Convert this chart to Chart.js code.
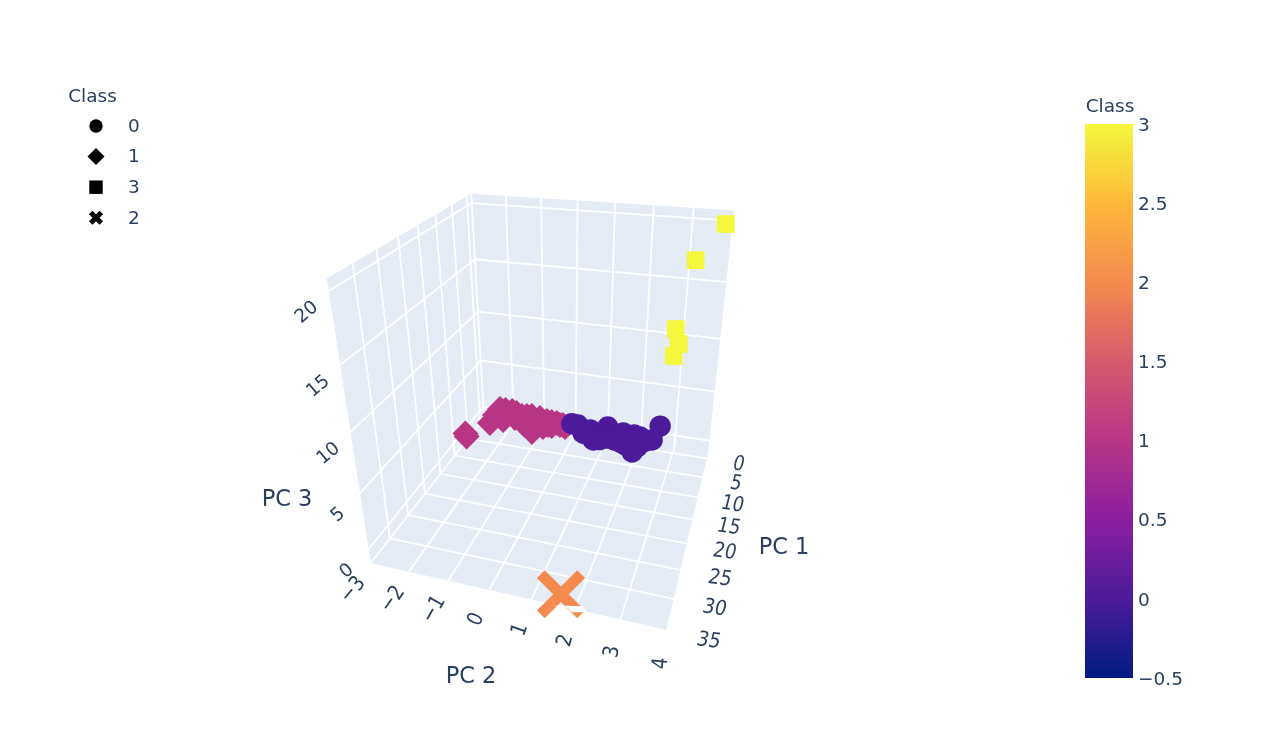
<!DOCTYPE html>
<html>
<head>
<meta charset="utf-8">
<title>Class scatter</title>
<script src="https://cdn.jsdelivr.net/npm/chart.js@4/dist/chart.umd.js"></script>
<style>
    body { margin: 0; background: #fff; }
    #scene { position: absolute; left: 0; top: 0; }
    #colorbar { position: absolute; left: 1085px; top: 108px; }
</style>
</head>
<body>
<canvas id="scene" width="1278" height="744"></canvas>
<canvas id="colorbar" width="190" height="586"></canvas>
<script>
// Values
const class0Pc1 = [-0.3, -0.3, -0.3, -0.3, -0.3, -0.3, 3.93, 2.39, 1.25, 1.8, -0.47, 2.35, 2.39, -0.14, -0.3, -0.3, -0.3, 2.0, 1.5, 1.0, 0.5, 1.2];
const class0Pc2 = [-0.05, 0.14, 0.52, 1.05, 1.52, 1.84, 1.96, 0.75, 1.1, 1.52, 2.01, 1.69, 2.04, 2.38, 2.58, 0.3, 0.83, 0.92, 1.33, 0.43, 2.2, 1.8];
const class0Pc3 = [0.06, 0.03, -0.3, 0.3, -0.08, -0.13, -0.3, -0.3, -0.3, -0.3, -0.3, -0.3, -0.3, -0.3, 1.22, -0.76, -0.68, -0.3, -0.3, -0.3, -0.3, -0.3];

const class1Pc1 = [6.4, 7.15, 2.43, -0.32, -0.28, -0.3, -0.3, -0.3, -0.3, -0.3, -0.3, -0.3, -0.3, 2.0, -0.3, 0.49, 0.49, 1.0, -0.14, -0.3, -0.3, -0.3, -0.3, -0.3, -0.3, -0.3, -0.3, -0.3, -0.3, -0.3, -0.2];
const class1Pc2 = [-2.94, -2.84, -2.47, -2.34, -1.94, -1.63, -1.31, -0.83, -0.52, -0.33, -0.26, -1.05, -0.96, -1.16, -1.6, -2.45, -2.02, -2.15, -1.85, -1.47, -0.68, -2.16, -1.8, -1.47, -1.05, -0.68, -0.42, -1.54, -1.22, -0.8, -2.26];
const class1Pc3 = [-0.2, -0.2, -0.2, 0.47, 0.47, 0.09, 0.25, -0.04, -0.1, -0.22, -0.41, -0.28, -0.79, -0.64, -0.68, 0.03, 0.47, -0.2, -0.2, -0.73, -0.53, 0.47, 0.32, 0.17, 0.16, -0.08, -0.28, -0.87, -0.92, -0.48, -0.02];

const class2Pc1 = [33.8];
const class2Pc2 = [1.62];
const class2Pc3 = [-0.86];

const class3Pc1 = [-0.1, -0.1, -0.1, -0.1, -0.1];
const class3Pc2 = [3.84, 3.19, 2.82, 2.93, 2.82];
const class3Pc3 = [19.96, 16.9, 10.83, 9.51, 8.34];

const pc1Ticks = [0, 5, 10, 15, 20, 25, 30, 35];
const pc2Ticks = [-3, -2, -1, 0, 1, 2, 3, 4];
const pc3Ticks = [0, 5, 10, 15, 20];
const colorbarTicks = [-0.5, 0, 0.5, 1, 1.5, 2, 2.5, 3];

const legendLabels = ['0', '1', '3', '2'];
const legendStyles = ['circle', 'rectRot', 'rect', 'crossRot'];

// Colour at each colour bar tick, bottom to top
const colorbarColors = ['#001a83', '#4c1b9b', '#8b1fa0', '#b83586', '#d65a6c', '#f58a4e', '#fdb93b', '#f4f73c'];

const textColor = '#2a3f5f';
const textFont = '"DejaVu Sans", Verdana, sans-serif';

// Box extent in data units
const pc1Range = [-1.6, 35];
const pc2Range = [-3, 4];
const pc3Range = [-1.3, 20.8];

// Camera: where the box corners land on the page, and the perspective weight of each edge
const cornerFront = [370, 564];
const cornerBack = [484, 418];
const cornerRight = [667, 631];
const cornerTop = [326, 279];
const depthWeight = [0.341, -0.113, -0.185];

// Project a data point (PC 1, PC 2, PC 3) to page pixels
function project(pc1, pc2, pc3) {
    const t1 = (pc1Range[1] - pc1) / (pc1Range[1] - pc1Range[0]);
    const t2 = (pc2 - pc2Range[0]) / (pc2Range[1] - pc2Range[0]);
    const t3 = (pc3 - pc3Range[0]) / (pc3Range[1] - pc3Range[0]);
    const w = 1 + t1 * depthWeight[0] + t2 * depthWeight[1] + t3 * depthWeight[2];
    const coord = (i) => (cornerFront[i]
        + t1 * ((1 + depthWeight[0]) * cornerBack[i] - cornerFront[i])
        + t2 * ((1 + depthWeight[1]) * cornerRight[i] - cornerFront[i])
        + t3 * ((1 + depthWeight[2]) * cornerTop[i] - cornerFront[i])) / w;
    return { x: coord(0), y: coord(1) };
}

function projectAll(pc1, pc2, pc3) {
    return pc1.map((v, i) => project(v, pc2[i], pc3[i]));
}

function minus(v) {
    return v < 0 ? '\u2212' + Math.abs(v) : String(v);
}

// Filled walls and floor
function paneDataset(corners) {
    const pts = corners.map(c => project(c[0], c[1], c[2]));
    pts.push(pts[0]);
    return {
        data: pts, showLine: true, fill: 'shape', backgroundColor: '#e5ecf6',
        borderWidth: 0, pointRadius: 0, order: 5
    };
}

function gridDataset(from, to) {
    return {
        data: [project(from[0], from[1], from[2]), project(to[0], to[1], to[2])],
        showLine: true, borderColor: '#ffffff', borderWidth: 1.8, pointRadius: 0, order: 4
    };
}

const [x0, x1] = pc1Range;
const [y0, y1] = pc2Range;
const [z0, z1] = pc3Range;

const sceneDatasets = [
    paneDataset([[x0, y0, z0], [x0, y1, z0], [x0, y1, z1], [x0, y0, z1]]),
    paneDataset([[x0, y0, z0], [x1, y0, z0], [x1, y0, z1], [x0, y0, z1]]),
    paneDataset([[x0, y0, z0], [x1, y0, z0], [x1, y1, z0], [x0, y1, z0]])
];

for (const v of pc1Ticks) {
    sceneDatasets.push(gridDataset([v, y0, z0], [v, y1, z0]));
    sceneDatasets.push(gridDataset([v, y0, z0], [v, y0, z1]));
}
for (const v of pc2Ticks) {
    sceneDatasets.push(gridDataset([x0, v, z0], [x1, v, z0]));
    sceneDatasets.push(gridDataset([x0, v, z0], [x0, v, z1]));
}
for (const v of pc3Ticks) {
    sceneDatasets.push(gridDataset([x0, y0, v], [x1, y0, v]));
    sceneDatasets.push(gridDataset([x0, y0, v], [x0, y1, v]));
}

// Class markers
sceneDatasets.push({
    label: '1', data: projectAll(class1Pc1, class1Pc2, class1Pc3), pointStyle: 'rectRot',
    pointRadius: 13, pointBorderWidth: 0, pointBackgroundColor: '#b83586', order: 3
});
sceneDatasets.push({
    label: '0', data: projectAll(class0Pc1, class0Pc2, class0Pc3), pointStyle: 'circle',
    pointRadius: 10.7, pointBorderWidth: 0, pointBackgroundColor: '#4c1b9b', order: 2
});
const class2Points = projectAll(class2Pc1, class2Pc2, class2Pc3);
sceneDatasets.push({
    label: '2', data: class2Points, pointStyle: 'crossRot',
    pointRadius: 28.5, pointBorderWidth: 11, pointBorderColor: '#f58a4e', order: 1
});
sceneDatasets.push({
    label: '3', data: projectAll(class3Pc1, class3Pc2, class3Pc3), pointStyle: 'rect',
    pointRadius: 12.5, pointBorderWidth: 0, pointBackgroundColor: '#f4f73c', order: 1
});

// The X is cut by the box's front edge in the reference: white sliver over its lower arm
const cutOffsets = [[-10, 11], [21, 12], [26, 17], [22, 18], [11, 18], [5, 12.5], [-10, 11]];
sceneDatasets.push({
    data: cutOffsets.map(o => ({ x: class2Points[0].x + o[0], y: class2Points[0].y + o[1] })),
    showLine: true, fill: 'shape', backgroundColor: '#ffffff',
    borderWidth: 0, pointRadius: 0, order: 0
});

function drawText(ctx, text, x, y, size, m) {
    ctx.save();
    ctx.font = size + 'px ' + textFont;
    ctx.fillStyle = textColor;
    ctx.textBaseline = 'middle';
    ctx.textAlign = 'center';
    if (m) {
        ctx.transform(m[0], m[1], m[2], m[3], x, y);
        ctx.fillText(text, 0, 0);
    } else {
        ctx.fillText(text, x, y);
    }
    ctx.restore();
}

// Tick labels, axis titles and the marker legend
const sceneText = {
    id: 'sceneText',
    afterDatasetsDraw(chart) {
        const ctx = chart.ctx;

        for (const v of pc1Ticks) {
            const p = project(v, y1, z0);
            drawText(ctx, minus(v), p.x + 31 + 0.3 * v, p.y + 6 + 0.12 * v, 18.5,
                [0.93 + 0.002 * v, 0.13, -0.28, 1.1]);
        }
        pc2Ticks.forEach((v, i) => {
            const p = project(x1, v, z0);
            const a = (-50 - 5 * i) * Math.PI / 180;
            drawText(ctx, minus(v), p.x - 17 + 1.6 * i, p.y + 26 + 0.9 * i, 18.5,
                [Math.cos(a), Math.sin(a), -1.15 * Math.sin(a), 1.15 * Math.cos(a)]);
        });
        for (const v of pc3Ticks) {
            const p = project(x1, y0, v);
            const a = -40 * Math.PI / 180;
            drawText(ctx, minus(v), p.x - 21, p.y + 21, 18.5,
                [Math.cos(a), Math.sin(a), -Math.sin(a), Math.cos(a)]);
        }

        drawText(ctx, 'PC 1', 784, 548.5, 22.5);
        drawText(ctx, 'PC 2', 471, 677, 22.5);
        drawText(ctx, 'PC 3', 287, 500.5, 22.5);

        // Legend
        drawText(ctx, 'Class', 92.5, 97, 18.5);
        legendLabels.forEach((label, i) => {
            const y = 126 + i * 30.6;
            ctx.save();
            ctx.fillStyle = '#000';
            ctx.strokeStyle = '#000';
            const style = legendStyles[i];
            ctx.lineWidth = style === 'crossRot' ? 5 : 0;
            Chart.helpers.drawPoint(ctx, {
                pointStyle: style,
                radius: style === 'crossRot' ? 7.5 : style === 'rectRot' ? 8.5 : style === 'rect' ? 9.5 : 6.7,
                rotation: 0,
                borderWidth: style === 'crossRot' ? 5 : 0
            }, 96, y);
            ctx.restore();
            drawText(ctx, label, 134, y + 1, 18.5);
        });

        drawText(ctx, 'Class', 1110, 107, 18.5);
    }
};

new Chart(document.getElementById('scene').getContext('2d'), {
    type: 'scatter',
    data: { datasets: sceneDatasets },
    plugins: [sceneText],
    options: {
        responsive: false,
        animation: false,
        layout: { padding: 0, autoPadding: false },
        plugins: { legend: { display: false }, tooltip: { enabled: false } },
        scales: {
            x: { type: 'linear', display: false, min: 0, max: 1278 },
            y: { type: 'linear', display: false, min: 0, max: 744, reverse: true }
        }
    }
});

// Colour bar
function colorbarGradient(context) {
    const area = context.chart.chartArea;
    if (!area) return colorbarColors[0];
    const g = context.chart.ctx.createLinearGradient(0, area.bottom, 0, area.top);
    colorbarColors.forEach((c, i) => g.addColorStop(i / (colorbarColors.length - 1), c));
    return g;
}

new Chart(document.getElementById('colorbar').getContext('2d'), {
    type: 'bar',
    data: {
        labels: ['Class'],
        datasets: [{
            data: [[colorbarTicks[0], colorbarTicks[colorbarTicks.length - 1]]],
            backgroundColor: colorbarGradient,
            barPercentage: 1,
            categoryPercentage: 1
        }]
    },
    options: {
        responsive: false,
        animation: false,
        layout: { padding: 0 },
        plugins: { legend: { display: false }, tooltip: { enabled: false } },
        scales: {
            x: { display: false },
            y: {
                position: 'right',
                min: colorbarTicks[0],
                max: colorbarTicks[colorbarTicks.length - 1],
                afterFit: (scale) => { scale.width = 142; },
                afterBuildTicks: (scale) => { scale.ticks = colorbarTicks.map(v => ({ value: v })); },
                border: { display: false },
                grid: { display: false, drawTicks: false },
                ticks: {
                    padding: 5,
                    labelOffset: 2,
                    color: textColor,
                    font: { family: textFont, size: 18.5 },
                    callback: (value) => minus(value)
                }
            }
        }
    }
});
</script>
</body>
</html>
